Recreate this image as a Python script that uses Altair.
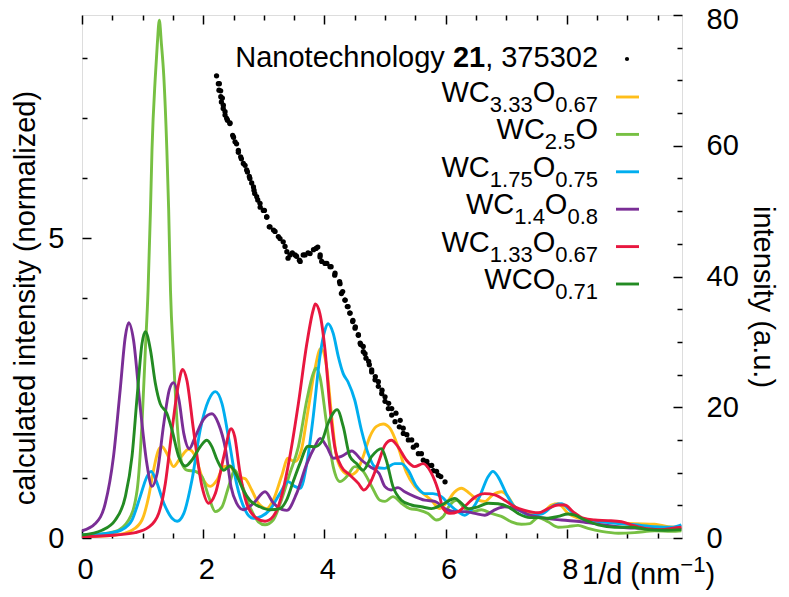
import altair as alt
import pandas as pd

FONT = "Liberation Sans"
W, H = 600, 523
X_MAX = 9.9
Y_MAX = 8.717
V_MAX = 80

# ---------------- data ----------------
series_names = ["WC3.33O0.67", "WC2.5O", "WC1.75O0.75", "WC1.4O0.8", "WC1.33O0.67", "WCO0.71"]
series_colors = ["#FFBE1A", "#77C043", "#00AEEF", "#7A2E96", "#E8173F", "#238B23"]

wc333_x = [0, 0.55, 0.825, 0.99, 1.1, 1.18, 1.265, 1.32, 1.4, 1.51, 1.62, 1.76, 1.87, 1.98, 2.12, 2.23, 2.34,
           2.44, 2.55, 2.69, 2.8, 2.91, 3.045, 3.155, 3.29, 3.4, 3.51, 3.62, 3.73, 3.84, 3.94, 4.035, 4.12, 4.2,
           4.31, 4.42, 4.53, 4.64, 4.75, 4.86, 4.97, 5.08, 5.215, 5.35, 5.49, 5.63, 5.765, 5.9, 6.01, 6.15, 6.26,
           6.4, 6.535, 6.645, 6.78, 6.92, 7.03, 7.14, 7.28, 7.39, 7.58, 7.745, 7.855, 8.02, 8.185, 8.46, 8.79,
           9.12, 9.45, 9.67, 9.89]
wc333_y = [0.02, 0.05, 0.13, 0.3, 0.69, 1.13, 1.47, 1.52, 1.41, 1.19, 1.33, 1.48, 1.36, 1.02, 0.86, 0.97, 1.19,
           1.2, 1.02, 0.99, 0.8, 0.58, 0.49, 0.63, 1.02, 1.33, 1.27, 1.47, 2.13, 2.8, 3.16, 2.86, 2.02, 1.36,
           1.11, 1.05, 1.11, 1.36, 1.69, 1.86, 1.9, 1.83, 1.52, 1.1, 0.86, 0.74, 0.63, 0.49, 0.58, 0.77, 0.83,
           0.74, 0.63, 0.61, 0.72, 0.77, 0.69, 0.52, 0.44, 0.41, 0.41, 0.55, 0.57, 0.41, 0.33, 0.29, 0.26,
           0.24, 0.23, 0.19, 0.18]

wc25_x = [0, 0.55, 0.77, 0.91, 0.99, 1.045, 1.09, 1.13, 1.155, 1.21, 1.243, 1.276, 1.31, 1.35, 1.4, 1.43, 1.46,
          1.51, 1.57, 1.65, 1.73, 1.87, 1.98, 2.09, 2.2, 2.31, 2.42, 2.52, 2.63, 2.77, 2.91, 3.02, 3.155, 3.29,
          3.43, 3.57, 3.71, 3.815, 3.86, 3.925, 4.035, 4.145, 4.255, 4.365, 4.5, 4.64, 4.78, 4.915, 5.0, 5.13,
          5.27, 5.41, 5.545, 5.71, 5.85, 5.96, 6.07, 6.18, 6.315, 6.45, 6.59, 6.755, 6.92, 7.085, 7.25, 7.39,
          7.525, 7.69, 7.855, 8.02, 8.185, 8.35, 8.57, 8.85, 9.12, 9.45, 9.725, 9.89]
wc25_y = [0.03, 0.11, 0.3, 0.8, 1.91, 3.13, 4.13, 5.47, 6.47, 7.69, 8.24, 8.63, 8.24, 7.69, 6.47, 5.47, 4.13,
          3.02, 1.91, 1.24, 1.13, 1.11, 1.02, 0.69, 0.44, 0.52, 0.86, 1.13, 0.91, 0.52, 0.27, 0.22, 0.3, 0.63,
          1.08, 1.52, 2.3, 2.74, 2.83, 2.69, 1.91, 1.19, 0.94, 1.02, 1.19, 1.11, 0.86, 0.63, 0.61, 0.69,
          0.58, 0.49, 0.47, 0.41, 0.3, 0.36, 0.55, 0.63, 0.49, 0.44, 0.47, 0.41, 0.36, 0.27, 0.23, 0.24,
          0.34, 0.27, 0.18, 0.19, 0.21, 0.16, 0.11, 0.08, 0.09, 0.12, 0.11, 0.12]

wc175_x = [0, 0.44, 0.66, 0.825, 0.96, 1.07, 1.14, 1.21, 1.35, 1.485, 1.57, 1.68, 1.815, 1.95, 2.09, 2.2, 2.31,
           2.43, 2.55, 2.69, 2.825, 2.96, 3.1, 3.265, 3.4, 3.51, 3.6, 3.71, 3.815, 3.925, 4.01, 4.06, 4.145,
           4.23, 4.31, 4.39, 4.5, 4.61, 4.72, 4.83, 4.995, 5.16, 5.27, 5.38, 5.52, 5.655, 5.79, 5.93, 6.07,
           6.205, 6.315, 6.425, 6.56, 6.7, 6.78, 6.865, 7.0, 7.11, 7.25, 7.39, 7.58, 7.8, 7.91, 8.075, 8.3,
           8.57, 8.85, 9.12, 9.45, 9.725, 9.89]
wc175_y = [0.05, 0.08, 0.14, 0.3, 0.69, 1.02, 1.11, 0.99, 0.58, 0.33, 0.28, 0.41, 0.97, 1.8, 2.3, 2.44, 2.24,
           1.6, 0.91, 0.47, 0.33, 0.36, 0.47, 0.74, 0.94, 0.86, 0.83, 1.24, 2.02, 3.02, 3.47, 3.57, 3.41,
           3.02, 2.74, 2.6, 2.3, 1.8, 1.41, 1.19, 1.16, 1.24, 1.24, 1.13, 0.86, 0.74, 0.74, 0.69, 0.55,
           0.44, 0.38, 0.47, 0.69, 1.02, 1.11, 1.02, 0.74, 0.55, 0.44, 0.38, 0.4, 0.55, 0.57, 0.44, 0.3,
           0.27, 0.24, 0.22, 0.19, 0.18, 0.22]

wc14_x = [0, 0.22, 0.385, 0.52, 0.63, 0.715, 0.77, 0.85, 0.96, 1.07, 1.155, 1.24, 1.35, 1.44, 1.51, 1.6, 1.68,
          1.77, 1.87, 2.0, 2.145, 2.25, 2.37, 2.46, 2.55, 2.66, 2.83, 3.02, 3.16, 3.38, 3.54, 3.71, 3.84, 3.93,
          4.04, 4.15, 4.28, 4.45, 4.61, 4.75, 4.9, 4.995, 5.1, 5.215, 5.325, 5.49, 5.655, 5.82, 5.985, 6.15,
          6.315, 6.48, 6.645, 6.81, 6.975, 7.2, 7.39, 7.58, 7.91, 8.24, 8.57, 8.9, 9.23, 9.56, 9.89]
wc14_y = [0.12, 0.24, 0.58, 1.36, 2.47, 3.36, 3.59, 3.3, 2.19, 1.24, 0.86, 1.08, 1.91, 2.47, 2.59, 2.3, 1.74,
          1.49, 1.69, 1.97, 2.07, 1.91, 1.47, 0.85, 0.58, 0.47, 0.58, 0.77, 0.58, 0.46, 0.74, 1.24, 1.52, 1.66,
          1.52, 1.33, 1.36, 1.45, 1.3, 1.19, 1.08, 0.86, 0.8, 0.84, 0.77, 0.69, 0.63, 0.61, 0.49, 0.44,
          0.44, 0.41, 0.38, 0.47, 0.52, 0.47, 0.38, 0.34, 0.3, 0.27, 0.22, 0.18, 0.16, 0.14, 0.16]

wc133_x = [0, 0.55, 0.88, 1.1, 1.265, 1.375, 1.485, 1.595, 1.66, 1.73, 1.84, 1.98, 2.09, 2.2, 2.34, 2.46, 2.52,
           2.6, 2.715, 2.88, 3.02, 3.155, 3.29, 3.43, 3.57, 3.71, 3.815, 3.85, 3.925, 4.01, 4.09, 4.17, 4.28,
           4.42, 4.56, 4.65, 4.75, 4.885, 5.0, 5.105, 5.215, 5.35, 5.49, 5.63, 5.765, 5.875, 5.96, 6.07, 6.205,
           6.34, 6.48, 6.645, 6.81, 6.975, 7.14, 7.305, 7.525, 7.69, 7.855, 7.965, 8.1, 8.27, 8.46, 8.68, 8.9,
           9.065, 9.285, 9.56, 9.725, 9.89]
wc133_y = [0.02, 0.05, 0.09, 0.18, 0.41, 0.91, 1.8, 2.58, 2.81, 2.63, 1.8, 0.86, 0.58, 0.74, 1.36, 1.82, 1.69,
           1.13, 0.58, 0.33, 0.28, 0.36, 0.69, 1.36, 2.24, 3.24, 3.8, 3.9, 3.74, 3.13, 2.19, 1.52, 1.19,
           1.05, 0.91, 0.8, 0.91, 1.24, 1.55, 1.63, 1.52, 1.3, 1.19, 1.24, 1.08, 0.8, 0.49, 0.41, 0.44,
           0.55, 0.68, 0.74, 0.72, 0.63, 0.52, 0.46, 0.42, 0.49, 0.55, 0.55, 0.44, 0.33, 0.3, 0.29, 0.27,
           0.22, 0.16, 0.14, 0.16, 0.18]

wco071_x = [0, 0.33, 0.55, 0.715, 0.825, 0.91, 0.99, 1.045, 1.13, 1.21, 1.29, 1.4, 1.485, 1.595, 1.705, 1.815,
            1.95, 2.06, 2.145, 2.23, 2.34, 2.44, 2.55, 2.66, 2.77, 2.935, 3.1, 3.265, 3.375, 3.485, 3.595,
            3.73, 3.84, 3.95, 4.06, 4.21, 4.31, 4.42, 4.53, 4.64, 4.78, 4.94, 5.02, 5.13, 5.27, 5.435, 5.6,
            5.765, 5.93, 6.07, 6.15, 6.26, 6.37, 6.535, 6.7, 6.865, 7.03, 7.195, 7.39, 7.525, 7.69, 7.855,
            8.02, 8.13, 8.3, 8.515, 8.79, 9.065, 9.34, 9.615, 9.89]
wco071_y = [0.05, 0.13, 0.3, 0.69, 1.36, 2.36, 3.24, 3.44, 3.13, 2.58, 2.24, 2.08, 1.8, 1.36, 1.2, 1.3,
            1.52, 1.63, 1.52, 1.3, 1.13, 1.2, 1.05, 0.8, 0.63, 0.52, 0.47, 0.49, 0.63, 0.94, 1.24,
            1.53, 1.52, 1.6, 1.91, 2.14, 1.86, 1.36, 1.24, 1.13, 1.36, 1.49, 1.3, 0.86, 0.63, 0.55, 0.52,
            0.49, 0.55, 0.63, 0.66, 0.58, 0.49, 0.52, 0.58, 0.57, 0.52, 0.41, 0.34, 0.34, 0.33, 0.36,
            0.4, 0.38, 0.3, 0.22, 0.18, 0.18, 0.14, 0.13, 0.14]

# measured intensity (Nanotechnology 21, 375302), right axis -- two reading passes over the dots
dots_x_a = [2.22, 2.25, 2.26, 2.29, 2.30, 2.33, 2.36, 2.40, 2.44, 2.50, 2.55, 2.58, 2.63, 2.69, 2.73, 2.77, 2.83,
            2.85, 2.90, 2.94, 3.01, 3.05, 3.09, 3.16, 3.24, 3.32, 3.38, 3.40, 3.47, 3.54, 3.60, 3.65, 3.73, 3.82,
            3.89, 3.93, 3.955, 4.04, 4.11, 4.17, 4.25, 4.28, 4.34, 4.39, 4.42, 4.47, 4.51, 4.56, 4.59, 4.64, 4.67,
            4.73, 4.78, 4.84, 4.89, 4.95, 5.00, 5.06, 5.11, 5.18, 5.25, 5.30, 5.36, 5.44, 5.52, 5.60, 5.69, 5.77,
            5.85, 5.92, 5.99]
dots_v_a = [70.7, 69.5, 68.5, 67.5, 66.7, 65.7, 64.7, 63.9, 63.4, 61.3, 60.3, 59.0, 58.0, 57.0, 56.0, 55.0, 53.7,
            52.7, 51.7, 50.6, 50.1, 49.1, 47.6, 47.1, 46.1, 45.3, 43.8, 42.8, 43.6, 43.1, 42.3, 43.3, 43.6, 44.1,
            44.5, 43.3, 42.3, 42.0, 41.5, 40.2, 39.2, 37.4, 36.4, 35.4, 34.4, 33.3, 32.3, 31.0, 29.8, 29.3, 28.2,
            27.0, 25.7, 24.7, 23.9, 22.6, 21.6, 20.6, 19.8, 19.1, 18.0, 16.8, 15.8, 15.0, 14.2, 12.9, 11.7, 11.1,
            10.2, 9.4, 8.6]
dots_x_b = [2.266, 2.288, 2.316, 2.332, 2.36, 2.387, 2.442, 2.486, 2.525, 2.58, 2.618, 2.662, 2.717, 2.761, 2.8,
            2.838, 2.882, 2.937, 2.992, 3.047, 3.102, 3.185, 3.267, 3.35, 3.432, 3.515, 3.587, 3.68, 3.763, 3.861,
            3.927, 4.01, 4.092, 4.175, 4.257, 4.301, 4.34, 4.378, 4.422, 4.466, 4.505, 4.56, 4.598, 4.642, 4.686,
            4.741, 4.78, 4.835, 4.89, 4.945, 5.0, 5.055, 5.11, 5.165, 5.236, 5.302, 5.385, 5.467, 5.55, 5.632,
            5.715, 5.797, 5.88]
dots_v_b = [69.5, 68.4, 67.3, 66.2, 65.2, 64.2, 63.5, 61.6, 60.6, 59.3, 58.3, 57.3, 56.3, 55.3, 54.3, 53.2, 52.2,
            51.2, 50.1, 49.1, 47.6, 46.9, 45.8, 44.6, 43.3, 43.3, 42.5, 43.3, 43.5, 44.3, 43.0, 42.0, 41.5, 40.5,
            38.9, 37.7, 36.4, 35.4, 34.4, 33.1, 32.1, 31.1, 29.6, 28.5, 27.5, 26.5, 25.4, 24.2, 23.2, 22.1, 20.9,
            19.8, 18.8, 17.8, 17.0, 16.0, 15.0, 13.9, 12.9, 11.9, 11.1, 10.3, 9.6]

# tick values
x_labels = [0, 2, 4, 6, 8]
x_minor = [0.5, 1, 1.5, 2.5, 3, 3.5, 4.5, 5, 5.5, 6.5, 7, 7.5, 8.5, 9, 9.5]
y_labels = [0, 5]
y_minor = [1, 2, 3, 4, 6, 7, 8]
v_labels = [0, 20, 40, 60, 80]
v_minor = [5, 10, 15, 25, 30, 35, 45, 50, 55, 65, 70, 75]

# legend text (0 = normal, 1 = subscript)
legend_parts = [
    [("WC", 0), ("3.33", 1), ("O", 0), ("0.67", 1)],
    [("WC", 0), ("2.5", 1), ("O", 0)],
    [("WC", 0), ("1.75", 1), ("O", 0), ("0.75", 1)],
    [("WC", 0), ("1.4", 1), ("O", 0), ("0.8", 1)],
    [("WC", 0), ("1.33", 1), ("O", 0), ("0.67", 1)],
    [("WCO", 0), ("0.71", 1)],
]
ref_parts = [("Nanotechnology ", False), ("21", True), (", 375302", False)]
xtitle_parts = [("1/d (nm", 0), ("\u22121", 2), (")", 0)]
ytitle_left = "calculated intensity (normalized)"
ytitle_right = "intensity (a.u.)"

# ---------------- layout helpers ----------------
FS = 29
FS_SUB = 22
ARIAL = {"W": 944, "C": 722, "O": 778, ".": 278, " ": 278, ",": 278, "N": 722, "a": 556, "n": 556,
         "o": 556, "t": 278, "e": 556, "c": 500, "h": 556, "l": 222, "g": 556, "y": 500, "/": 278,
         "d": 556, "(": 333, ")": 333, "m": 833, "\u2212": 584}


def tw(s, fs):
    return sum(ARIAL.get(ch, 556) for ch in s) / 1000.0 * fs


LEG_RIGHT = 516
LEG_LINE_X1, LEG_LINE_X2 = 534, 557
LEG_Y0, LEG_DY = 82, 37.4

text_rows = []
bold_rows = []
# reference entry
ref_total = sum(tw(t, FS) for t, _ in ref_parts)
cx = LEG_RIGHT - ref_total
for t, b in ref_parts:
    (bold_rows if b else text_rows).append({"text": t, "px": cx, "py": 52, "fs": FS})
    cx += tw(t, FS)

leg_line_rows = []
for i, parts in enumerate(legend_parts):
    ly = LEG_Y0 + i * LEG_DY
    base = ly + 5
    total = sum(tw(t, FS_SUB if s else FS) for t, s in parts)
    cx = LEG_RIGHT - total
    for t, s in parts:
        fs = FS_SUB if s else FS
        text_rows.append({"text": t, "px": cx, "py": base + (10 if s else 0), "fs": fs})
        cx += tw(t, fs)
    leg_line_rows.append({"series": series_names[i], "x1": LEG_LINE_X1, "x2": LEG_LINE_X2, "ly": ly})

# x-axis title at lower right
cx = 500
for t, s in xtitle_parts:
    fs = FS_SUB if s else FS
    text_rows.append({"text": t, "px": cx, "py": 569 - (12 if s else 0), "fs": fs})
    cx += tw(t, fs)

# ---------------- data frames ----------------
rows = []
for name, xs, ys in zip(series_names,
                        [wc333_x, wc25_x, wc175_x, wc14_x, wc133_x, wco071_x],
                        [wc333_y, wc25_y, wc175_y, wc14_y, wc133_y, wco071_y]):
    for a, b in zip(xs, ys):
        rows.append({"series": name, "x": a, "y": b})
lines_df = pd.DataFrame(rows)
dots_df = pd.DataFrame({"x": dots_x_a + dots_x_b, "v": dots_v_a + dots_v_b})
text_df = pd.DataFrame(text_rows)
bold_df = pd.DataFrame(bold_rows)
legline_df = pd.DataFrame(leg_line_rows)

xscale = alt.Scale(domain=[0, X_MAX], nice=False, zero=False)
yscale = alt.Scale(domain=[0, Y_MAX], nice=False)
vscale = alt.Scale(domain=[0, V_MAX], nice=False)
cscale = alt.Scale(domain=series_names, range=series_colors)


def label_axis(orient, values, pad, **kw):
    return alt.Axis(orient=orient, values=values, ticks=False, domain=False, grid=False,
                    labelFont=FONT, labelFontSize=FS, labelColor="black", labelPadding=pad,
                    labelFlush=False, title=None, **kw)


def tick_axis(orient, values, length):
    return alt.Axis(orient=orient, values=values, labels=False, domain=False, grid=False,
                    ticks=True, tickSize=length, tickWidth=1.5, tickColor="black",
                    offset=-length, title=None)


lines = alt.Chart(lines_df).mark_line(strokeWidth=2.9, interpolate="monotone", clip=True).encode(
    x=alt.X("x:Q", scale=xscale, axis=label_axis("bottom", x_labels, 17, labelOffset=3)),
    y=alt.Y("y:Q", scale=yscale, axis=label_axis("left", y_labels, 18)),
    color=alt.Color("series:N", scale=cscale, legend=None),
)

dots = alt.Chart(dots_df).mark_circle(size=28, color="black", opacity=1).encode(
    x=alt.X("x:Q", scale=xscale, axis=None),
    y=alt.Y("v:Q", scale=vscale, axis=label_axis(
        "right", v_labels, 24,
        labelOffset={"condition": {"test": "datum.value == 80", "value": 4}, "value": 0})),
)

t_major_left = alt.Chart(lines_df).mark_point(opacity=0).encode(
    x=alt.X("x:Q", scale=xscale, axis=tick_axis("bottom", x_labels, 9)),
    y=alt.Y("y:Q", scale=yscale, axis=tick_axis("left", y_labels, 9)),
)
t_minor_left = alt.Chart(lines_df).mark_point(opacity=0).encode(
    x=alt.X("x:Q", scale=xscale, axis=tick_axis("bottom", x_minor, 5)),
    y=alt.Y("y:Q", scale=yscale, axis=tick_axis("left", y_minor, 5)),
)
t_major_right = alt.Chart(dots_df).mark_point(opacity=0).encode(
    x=alt.X("x:Q", scale=xscale, axis=tick_axis("top", x_labels, 9)),
    y=alt.Y("v:Q", scale=vscale, axis=tick_axis("right", v_labels, 9)),
)
t_minor_right = alt.Chart(dots_df).mark_point(opacity=0).encode(
    x=alt.X("x:Q", scale=xscale, axis=tick_axis("top", x_minor, 5)),
    y=alt.Y("v:Q", scale=vscale, axis=tick_axis("right", v_minor, 5)),
)

texts = alt.Chart(text_df).mark_text(align="left", baseline="alphabetic", font=FONT, color="black").encode(
    x=alt.X("px:Q", scale=None, axis=None),
    y=alt.Y("py:Q", scale=None, axis=None),
    text="text:N",
    size=alt.Size("fs:Q", scale=None, legend=None),
)
bold_texts = alt.Chart(bold_df).mark_text(align="left", baseline="alphabetic", font=FONT, color="black",
                                          fontWeight="bold").encode(
    x=alt.X("px:Q", scale=None, axis=None),
    y=alt.Y("py:Q", scale=None, axis=None),
    text="text:N",
    size=alt.Size("fs:Q", scale=None, legend=None),
)

leg_lines = alt.Chart(legline_df).mark_rule(strokeWidth=2.9).encode(
    x=alt.X("x1:Q", scale=None, axis=None),
    x2="x2:Q",
    y=alt.Y("ly:Q", scale=None, axis=None),
    color=alt.Color("series:N", scale=cscale, legend=None),
)
leg_dot = alt.Chart(pd.DataFrame({"px": [545], "py": [44]})).mark_circle(size=18, color="black", opacity=1).encode(
    x=alt.X("px:Q", scale=None, axis=None),
    y=alt.Y("py:Q", scale=None, axis=None),
)

title_left = alt.Chart(pd.DataFrame({"t": [ytitle_left], "px": [-47], "py": [283]})).mark_text(
    angle=270, align="center", baseline="alphabetic", font=FONT, fontSize=FS, color="black").encode(
    x=alt.X("px:Q", scale=None, axis=None), y=alt.Y("py:Q", scale=None, axis=None), text="t:N")
title_right = alt.Chart(pd.DataFrame({"t": [ytitle_right], "px": [672], "py": [282]})).mark_text(
    angle=90, align="center", baseline="alphabetic", font=FONT, fontSize=FS, color="black").encode(
    x=alt.X("px:Q", scale=None, axis=None), y=alt.Y("py:Q", scale=None, axis=None), text="t:N")

chart = alt.layer(
    t_major_left, t_minor_left, t_major_right, t_minor_right,
    dots, lines, texts, bold_texts, leg_lines, leg_dot, title_left, title_right,
).resolve_scale(y="independent").resolve_axis(x="independent", y="independent").properties(
    width=W, height=H,
    autosize=alt.AutoSizeParams(type="none"),
    padding={"left": 74, "top": 7, "right": 99, "bottom": 52},
).configure_view(stroke="black", strokeWidth=2).configure(background="white")

chart.save("out.html", embed_options={"renderer": "svg", "actions": False})
